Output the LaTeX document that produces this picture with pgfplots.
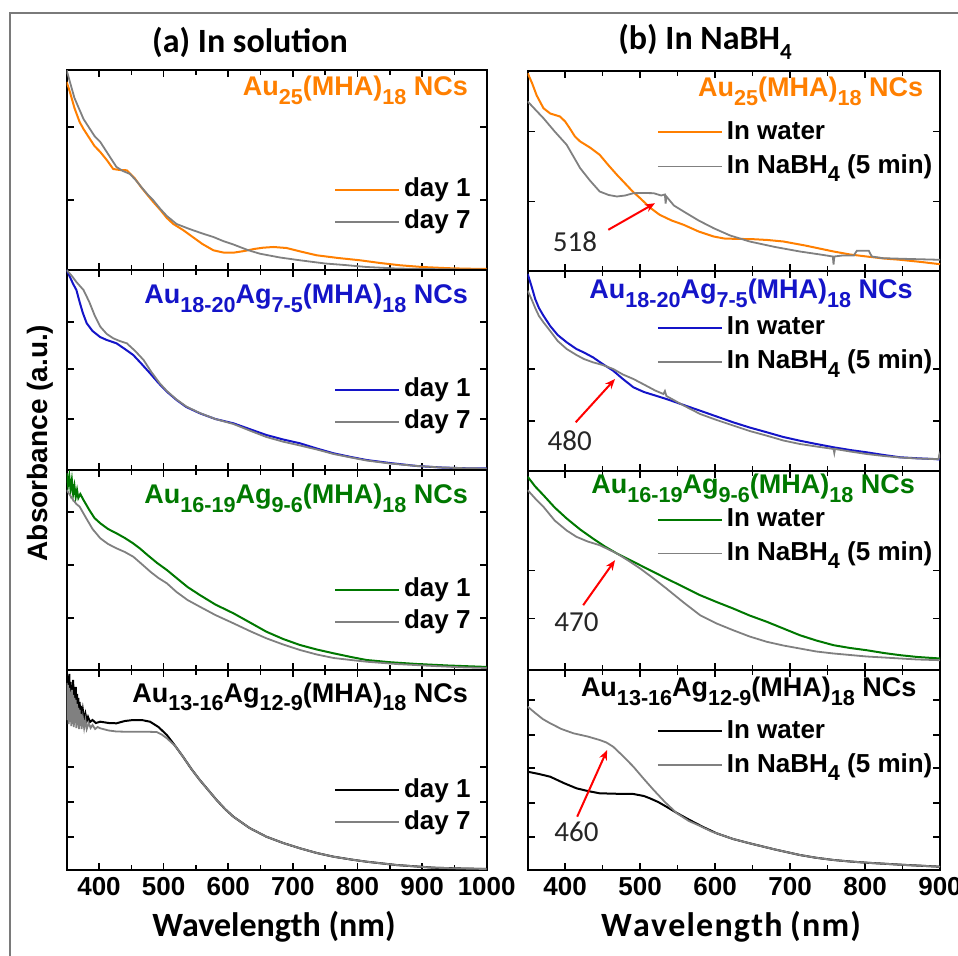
\documentclass[border=0pt]{standalone}
\usepackage{fontspec}
\setmainfont{Liberation Sans}
\newfontfamily\calib{Carlito}
\usepackage{pgfplots}
\pgfplotsset{compat=1.18}
\usetikzlibrary{arrows.meta}
\definecolor{cOr}{HTML}{FF7F00}
\definecolor{cBl}{HTML}{1414C8}
\definecolor{cGr}{HTML}{007800}
\definecolor{cGy}{HTML}{808080}
\definecolor{cFr}{HTML}{7A7A7A}
\newcommand{\subs}[1]{\raisebox{-0.32em}{\fontsize{10.8bp}{10.8bp}\selectfont #1}}
\newcommand{\lgs}{\rule{0pt}{10bp}}
\newcommand{\lbl}{\bfseries\fontsize{13.5bp}{13.5bp}\selectfont}
\pgfplotsset{
  panel/.style={
    scale only axis, height=100bp, ymin=0, ymax=200,
    xmin=350, minor x tick num=1,
    yticklabels={}, xticklabels={},
    axis line style={line width=1bp},
    major tick style={line width=0.8bp, black},
    minor tick style={line width=0.8bp, black},
    major tick length=3.5bp, minor tick length=2.5bp,
    tick align=inside, clip mode=individual,
    legend cell align=left,
    legend image code/.code={\draw[##1] (0bp,0bp) -- (32bp,0bp);},
    legend style={draw=none, fill=none, font=\bfseries\fontsize{13bp}{13bp}\selectfont,
      row sep=2bp, inner sep=0pt, column sep=1.5bp, nodes={inner sep=0.5bp, text depth=3bp}},
  },
  leftp/.style={panel, width=210bp, xmax=1000, xtick={400,500,...,1000},
    legend style={at={(rel axis cs:0.965,0.32)}, anchor=east}},
  rightp/.style={panel, width=206.15bp, xmax=900, xtick={400,500,...,900},
    legend style={at={(rel axis cs:0.985,0.61)}, anchor=east, row sep=3bp}},
  bottomp/.style={xticklabel style={font=\bfseries\fontsize{13bp}{13bp}\selectfont, yshift=-0.3bp}},
  wline/.style={line width=1bp},
  gline/.style={cGy, line width=0.9bp},
}
\begin{document}
\begin{tikzpicture}
\useasboundingbox (0,0) rectangle (479bp,478bp);
\draw[cFr, line width=1.2bp] (5bp,-5bp) -- (5bp,471.5bp) -- (485bp,471.5bp);
\node[font=\calib\bfseries\fontsize{17bp}{17bp}\selectfont] at (125bp,457bp) {(a) In solution};
\node[font=\calib\bfseries\fontsize{17bp}{17bp}\selectfont] at (352.5bp,457bp) {(b) In NaBH\raisebox{-0.3em}{\fontsize{11.5bp}{11.5bp}\selectfont 4}};
\node[font=\bfseries\fontsize{14bp}{14bp}\selectfont, rotate=90] at (20bp,256.5bp) {Absorbance (a.u.)};
\node[font=\calib\bfseries\fontsize{17bp}{17bp}\selectfont] at (137bp,14.5bp) {Wavelength (nm)};
\node[font=\calib\bfseries\fontsize{17bp}{17bp}\selectfont] at (365.5bp,14.5bp) {W\kern0.6bp a\kern0.6bp v\kern0.6bp e\kern0.6bp l\kern0.6bp e\kern0.6bp n\kern0.6bp g\kern0.6bp t\kern0.6bp h (\kern0.6bp n\kern0.6bp m\kern0.6bp )};

% ---------- Left 1 ----------
\begin{axis}[leftp, at={(33.35bp,343bp)}, anchor=south west, ytick={70,143}]
\addplot[cOr, wline] coordinates {(350,188)(355,178)(362,162)(370,148)(376,141)(385,132)(393,124)(402,118)(412,110)(422,101)(432,100)(443,99.7)(455,92)(465,83)(475,75)(484,68)(495,60)(505,52)(515,46)(530,40)(545,33)(560,26)(577,19.7)(592,17.5)(608,17.3)(625,19)(640,21)(654,22.3)(670,23)(690,22)(715,18)(737,14.7)(770,12)(804,9.7)(835,7)(866,4.7)(900,3)(940,1.8)(969,1.3)(1000,1)};
\addlegendentry{\lgs day 1}
\addplot[gline] coordinates {(350,199.7)(355,188)(362,172)(370,160)(376,151)(385,142)(393,134)(402,128)(412,118)(427,103)(437,99)(448,96)(458,89)(468,81)(476,75)(484,69.7)(495,61)(505,54)(520,46)(540,41)(560,36.5)(577,33)(592,29)(608,25.5)(630,20)(649,16.3)(680,12.5)(711,9.7)(750,6.5)(780,5)(814,3)(860,1.5)(900,1)(950,0.6)(1000,0.3)};
\addlegendentry{\lgs day 7}
\node[anchor=base east, text=cOr, font=\lbl] at (rel axis cs:0.972,0.87) {Au\subs{25}(MHA)\subs{18} NCs};
\end{axis}

% ---------- Left 2 ----------
\begin{axis}[leftp, at={(33.35bp,243bp)}, anchor=south west, ytick={51,101,148}]
\addplot[cBl, wline] coordinates {(350,200)(355,193)(360,186)(365,180)(370,168)(375,157)(381,146.7)(390,139)(401.6,133)(412,130)(427,126.7)(440,121)(453,115)(466,106)(479,96.7)(492,87)(505,78.3)(520,70)(535,63)(556,56.7)(580,51)(608,46.7)(635,40.5)(659,35)(685,30.5)(711,26.7)(737,21.5)(763,16.7)(790,13)(814,10)(850,7)(892,4)(930,2.5)(969,1.7)(1000,1.5)};
\addlegendentry{\lgs day 1}
\addplot[gline] coordinates {(350,200)(358,194)(365,188)(376,180)(385,168)(393,155)(402,143.3)(412,136)(422,131.7)(432,129)(443,126.7)(456,119)(469,110)(481,98)(494,86.7)(505,79)(520,70.5)(535,63.5)(556,57)(580,51)(608,46)(635,39)(659,33)(685,28.3)(711,24.5)(737,20.5)(763,16)(790,12.5)(814,9.5)(850,6.5)(892,4)(930,2.5)(969,1.7)(1000,1.5)};
\addlegendentry{\lgs day 7}
\node[anchor=base east, text=cBl, font=\lbl] at (rel axis cs:0.972,0.833) {Au\subs{18-20}Ag\subs{7-5}(MHA)\subs{18} NCs};
\end{axis}

% ---------- Left 3 ----------
\begin{axis}[leftp, at={(33.35bp,143bp)}, anchor=south west, ytick={52,105,158}]
\addplot[cGr, wline] coordinates {(350,196.7)(352,185)(354,194)(356,180)(358,190)(360,176)(362,184)(364,173)(366,180)(368,172)(371,176)(376,170)(385,160)(393,152)(402,146.7)(414,141)(427,136.7)(440,132)(452,127)(463,121.7)(475,115)(490,107)(505,100)(520,92)(537,83)(556,75)(580,65.5)(608,56.7)(635,47)(659,38.3)(685,31)(711,25)(737,20.5)(763,16.7)(790,13)(814,10)(850,7.8)(892,6)(940,4.5)(990,3.3)(1000,3)};
\addlegendentry{\lgs day 1}
\addplot[gline] coordinates {(350,180)(355,175)(360,170)(365,166)(370,163.3)(380,152)(390,141)(402,131.7)(414,126)(427,121.7)(440,118)(453,113.3)(466,106)(480,98)(492,92)(505,86.7)(520,78)(537,70)(556,63.3)(580,55)(608,46.7)(635,38.5)(659,31.7)(685,25.5)(711,20)(737,15.5)(763,12)(790,10)(814,8.3)(860,6)(918,4)(960,2.7)(1000,2)};
\addlegendentry{\lgs day 7}
\node[anchor=base east, text=cGr, font=\lbl] at (rel axis cs:0.972,0.833) {Au\subs{16-19}Ag\subs{9-6}(MHA)\subs{18} NCs};
\end{axis}

% ---------- Left 4 ----------
\begin{axis}[leftp, bottomp, at={(33.35bp,43bp)}, anchor=south west, ytick={33,68,103},
  xticklabels={400,500,600,700,800,900,1000}]
\addplot[black, wline] coordinates {(350,198)(351,160)(352,192)(353,165)(354,196)(355,158)(356,188)(357,162)(358,185)(359,165)(360,190)(361,158)(362,180)(363,160)(364,183)(365,156)(366,176)(367,158)(368,172)(369,152)(370,168)(371,154)(372,164)(373,150)(375,160)(377,150)(379,156)(381,149)(383,153)(386,148)(390,150)(395,147)(402,148.3)(415,147)(427,146.7)(440,149)(453,150)(466,150)(479,148.3)(492,143)(505,135)(518,124)(530,113.3)(543,101)(556,90)(569,80)(582,70)(595,61)(608,53.3)(633,42)(659,33.3)(685,27)(711,21.7)(737,17)(763,13.3)(790,10.5)(814,8.3)(860,5)(918,2.3)(960,1.5)(1000,1)};
\addlegendentry{\lgs day 1}
\addplot[gline] coordinates {(350,187)(351,150)(352,185)(353,146)(354,182)(355,148)(356,178)(357,144)(358,180)(359,146)(360,175)(361,143)(362,172)(363,147)(364,170)(365,142)(366,166)(367,145)(368,162)(369,141)(370,160)(371,144)(372,156)(373,141)(375,152)(377,142)(379,150)(381,141)(384,147)(387,142)(390,145)(394,141)(398,143)(402,141.7)(415,139.5)(427,138.5)(440,138.3)(453,138.3)(470,138.3)(489,138)(497,135.5)(505,131.7)(518,124)(530,113.3)(543,101)(556,90)(569,80)(582,70)(595,61)(608,53.3)(633,42)(659,33.3)(685,27)(711,21.7)(737,17)(763,13.3)(790,10.5)(814,8.3)(860,5)(918,2.3)(960,1.5)(1000,1)};
\addlegendentry{\lgs day 7}
\node[anchor=base east, text=black, font=\lbl] at (rel axis cs:0.972,0.84) {Au\subs{13-16}Ag\subs{12-9}(MHA)\subs{18} NCs};
\end{axis}

% ---------- Right 1 ----------
\begin{axis}[rightp, at={(263.85bp,342.25bp)}, anchor=south west, ytick={70,140}]
\addplot[cOr, wline] coordinates {(350,198.3)(356,188)(362,176)(371,163.3)(380,158)(393,155)(400,150)(406,143.3)(413,135)(420,130)(433,124)(446,116.7)(458,106)(469,96.7)(480,88)(490,80)(500,73.3)(513,64)(526,56.7)(542,51)(558,46.7)(578,40)(598,35)(612,33)(624,32.7)(651,32.3)(670,31.5)(691,30)(720,26)(758,20)(780,17)(802,15)(825,13)(847,11.7)(875,9.5)(900,7.3)};
\addlegendentry{\lgs In water}
\addplot[gline] coordinates {(350,170)(360,162)(371,153.3)(386,140)(402,126.7)(411,115)(420,103.3)(433,91)(446,80)(458,76.5)(469,75)(480,76)(491,78.3)(505,78.5)(518,78.3)(528,76)(533,77)(534,68)(535,75)(545,66)(558,60)(578,51)(598,43.3)(620,36)(646,30)(680,24.5)(713,20)(740,17)(757,15)(758,7)(759,15)(770,16)(785,16)(789,20.7)(805,20.7)(809,15)(824,13.3)(860,12.5)(900,11.7)};
\addlegendentry{\lgs In NaBH\subs{4} (5 min)}
\node[anchor=base east, text=cOr, font=\lbl] at (rel axis cs:0.976,0.875) {Au\subs{25}(MHA)\subs{18} NCs};
\draw[red, line width=1bp, -{Stealth[length=5bp,width=4bp]}] (axis cs:457.5,41.7) -- (axis cs:519.8,68.3);
\node[font=\calib\fontsize{14.5bp}{14.5bp}\selectfont, text=black!85] at (axis cs:413,30) {518};
\end{axis}

% ---------- Right 2 ----------
\begin{axis}[rightp, at={(263.85bp,242.5bp)}, anchor=south west, ytick={50,102},
  legend style={at={(rel axis cs:0.985,0.63)}}]
\addplot[cBl, wline] coordinates {(350,197)(355,185)(360,172)(365,163)(371,155.3)(380,145)(390,136)(402,128.7)(415,122)(425,118.5)(437,113.7)(450,107)(464,100.3)(477,92)(491,83.7)(505,79)(520,75.5)(535,72)(558,66)(580,60.3)(602,54.5)(624,48.7)(646,43.5)(669,38.7)(691,34)(713,30.3)(735,27)(758,23.7)(780,21)(802,18.7)(825,16)(847,13.7)(870,12.7)(891,12)(900,11.5)};
\addlegendentry{\lgs In water}
\addplot[gline] coordinates {(350,180.3)(355,172)(360,163)(365,155)(371,148.7)(380,140)(390,130)(402,122)(415,116)(425,112)(437,108.7)(450,106)(464,102)(477,96.5)(491,92)(505,86.5)(520,80.5)(531,77)(533,80)(535,75)(558,65.5)(580,57)(602,51)(624,45.5)(646,40)(669,35.3)(691,30.5)(713,27)(735,24.5)(758,22)(759,18)(760,22)(780,19.5)(802,17)(825,15)(847,13.5)(870,12.5)(891,12)(898,12)(899,16)(900,13)};
\addlegendentry{\lgs In NaBH\subs{4} (5 min)}
\node[anchor=base east, text=cBl, font=\lbl] at (rel axis cs:0.951,0.86) {Au\subs{18-20}Ag\subs{7-5}(MHA)\subs{18} NCs};
\draw[red, line width=1bp, -{Stealth[length=5bp,width=4bp]}] (axis cs:414,48.7) -- (axis cs:466.5,92);
\node[font=\calib\fontsize{14.5bp}{14.5bp}\selectfont, text=black!85] at (axis cs:406,30.3) {480};
\end{axis}

% ---------- Right 3 ----------
\begin{axis}[rightp, at={(263.85bp,142.75bp)}, anchor=south west, ytick={52,100},
  legend style={at={(rel axis cs:0.985,0.67)}}]
\addplot[cGr, wline] coordinates {(350,193.7)(360,184)(371,175.3)(386,163)(402,152)(420,141)(437,132)(453,124)(469,117)(485,111)(500,105.3)(518,98.5)(535,92)(558,83.5)(580,75.3)(602,68.5)(624,62)(646,55)(669,48.7)(691,42)(713,35.3)(735,30)(758,25.3)(780,22.5)(802,20.3)(825,17.5)(847,15.3)(870,13.5)(900,12)};
\addlegendentry{\lgs In water}
\addplot[gline] coordinates {(350,180.3)(360,172)(371,163.7)(386,150)(402,140)(415,133.7)(430,129)(446,125.3)(458,121)(469,117)(485,109.5)(500,102)(518,92)(535,82)(558,68)(580,55.3)(602,47)(624,40.3)(646,34)(669,28.7)(691,25)(713,22)(735,19)(758,17)(780,15.5)(802,14)(825,13)(847,12)(870,11)(900,10.3)};
\addlegendentry{\lgs In NaBH\subs{4} (5 min)}
\node[anchor=base east, text=cGr, font=\lbl] at (rel axis cs:0.956,0.885) {Au\subs{16-19}Ag\subs{9-6}(MHA)\subs{18} NCs};
\draw[red, line width=1bp, -{Stealth[length=5bp,width=4bp]}] (axis cs:424,65.3) -- (axis cs:466.5,110.3);
\node[font=\calib\fontsize{14.5bp}{14.5bp}\selectfont, text=black!85] at (axis cs:415,48.7) {470};
\end{axis}

% ---------- Right 4 ----------
\begin{axis}[rightp, bottomp, at={(263.85bp,43bp)}, anchor=south west, ytick={33,67,102,135,170},
  xticklabels={400,500,600,700,800,900}]
\addplot[black, wline] coordinates {(350,98.3)(365,96)(380,93.3)(398,87)(415,81.7)(430,79)(446,76.7)(470,76.2)(491,76)(505,74)(513,71.7)(524,68)(535,63.3)(549,57)(566,50)(584,43)(602,36.7)(624,31)(646,26.7)(680,20.5)(713,15)(735,12.2)(758,10)(780,8.5)(802,7.3)(850,5.2)(900,3.3)};
\addlegendentry{\lgs In water}
\addplot[gline] coordinates {(350,163.3)(360,157)(370,151)(380,146.7)(395,141)(411,136.7)(430,133.5)(446,130)(455,127.5)(464,123.3)(477,114)(491,103.3)(505,91)(518,80)(533,68)(549,56.7)(565,49)(580,44)(595,38.5)(602,36.7)(624,31)(646,26.7)(680,20.5)(713,15)(735,12.2)(758,10)(780,8.5)(802,7.3)(850,5.2)(900,3.3)};
\addlegendentry{\lgs In NaBH\subs{4} (5 min)}
\node[anchor=base east, text=black, font=\lbl] at (rel axis cs:0.96,0.867) {Au\subs{13-16}Ag\subs{12-9}(MHA)\subs{18} NCs};
\draw[red, line width=1bp, -{Stealth[length=5bp,width=4bp]}] (axis cs:416,53.3) -- (axis cs:456,120);
\node[font=\calib\fontsize{14.5bp}{14.5bp}\selectfont, text=black!85] at (axis cs:415,38.3) {460};
\end{axis}
\end{tikzpicture}
\end{document}
